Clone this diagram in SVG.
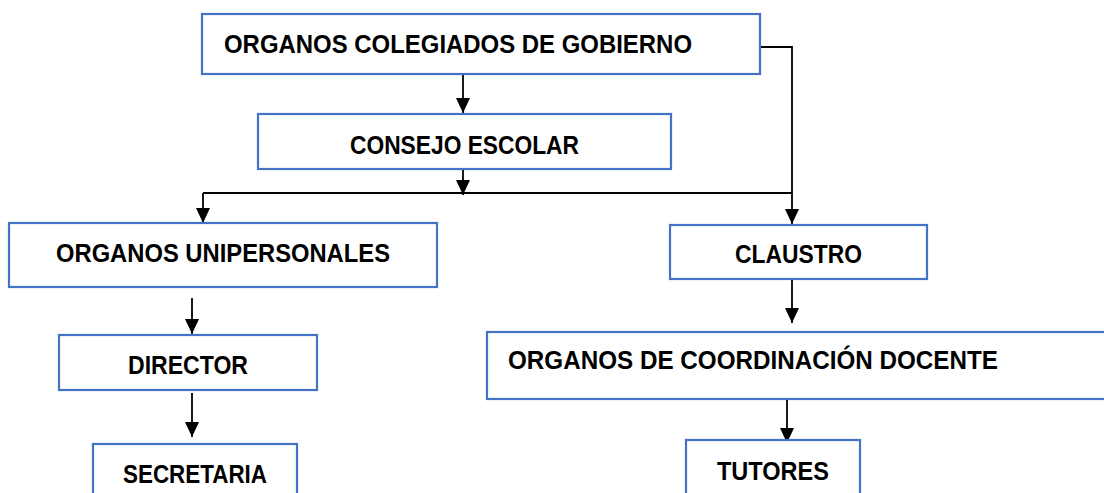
<svg xmlns="http://www.w3.org/2000/svg" width="1104" height="493" viewBox="0 0 1104 493">
<style>
.box{fill:#fff;stroke:#4472C4;stroke-width:2.2}
.lbl{font-family:"Liberation Sans",Arial,sans-serif;font-weight:bold;font-size:25px;fill:#000}
.con{fill:none;stroke:#000;stroke-width:1.8}
</style>
<defs>
<marker id="ah" markerUnits="userSpaceOnUse" markerWidth="15" markerHeight="14" viewBox="0 0 15 14" refX="15" refY="7" orient="auto">
<path d="M0,0 L15,7 L0,14 z" fill="#000"/>
</marker>
</defs>
<rect width="1104" height="493" fill="#fff"/>
<g id="connectors">
<path class="con" d="M463,70 V113" marker-end="url(#ah)"/>
<path class="con" d="M463,169 V195" marker-end="url(#ah)"/>
<path class="con" d="M203,193 H792"/>
<path class="con" d="M203,193 V223" marker-end="url(#ah)"/>
<path class="con" d="M760,47 H792 V224" marker-end="url(#ah)"/>
<path class="con" d="M792,279 V323" marker-end="url(#ah)"/>
<path class="con" d="M192,298 V334" marker-end="url(#ah)"/>
<path class="con" d="M192,393 V437" marker-end="url(#ah)"/>
<path class="con" d="M787,399 V443" marker-end="url(#ah)"/>
</g>
<g id="n1"><rect class="box" x="202" y="14" width="558" height="60"/><text class="lbl" x="224" y="53" textLength="468" lengthAdjust="spacingAndGlyphs">ORGANOS COLEGIADOS DE GOBIERNO</text></g>
<g id="n2"><rect class="box" x="258" y="114" width="413" height="55"/><text class="lbl" x="350" y="154" textLength="229" lengthAdjust="spacingAndGlyphs">CONSEJO ESCOLAR</text></g>
<g id="n3"><rect class="box" x="9" y="223" width="428" height="64"/><text class="lbl" x="56" y="262" textLength="334" lengthAdjust="spacingAndGlyphs">ORGANOS UNIPERSONALES</text></g>
<g id="n4"><rect class="box" x="59" y="335" width="258" height="55"/><text class="lbl" x="128" y="374" textLength="120" lengthAdjust="spacingAndGlyphs">DIRECTOR</text></g>
<g id="n5"><rect class="box" x="93" y="444" width="204" height="60"/><text class="lbl" x="123" y="483" textLength="144" lengthAdjust="spacingAndGlyphs">SECRETARIA</text></g>
<g id="n6"><rect class="box" x="670" y="225" width="257" height="54"/><text class="lbl" x="735" y="263" textLength="127" lengthAdjust="spacingAndGlyphs">CLAUSTRO</text></g>
<g id="n7"><rect class="box" x="487" y="332" width="630" height="67"/><text class="lbl" x="508" y="369" textLength="490" lengthAdjust="spacingAndGlyphs">ORGANOS DE COORDINACIÓN DOCENTE</text></g>
<g id="n8"><rect class="box" x="686" y="440" width="174" height="64"/><text class="lbl" x="717" y="480" textLength="112" lengthAdjust="spacingAndGlyphs">TUTORES</text></g>
</svg>
